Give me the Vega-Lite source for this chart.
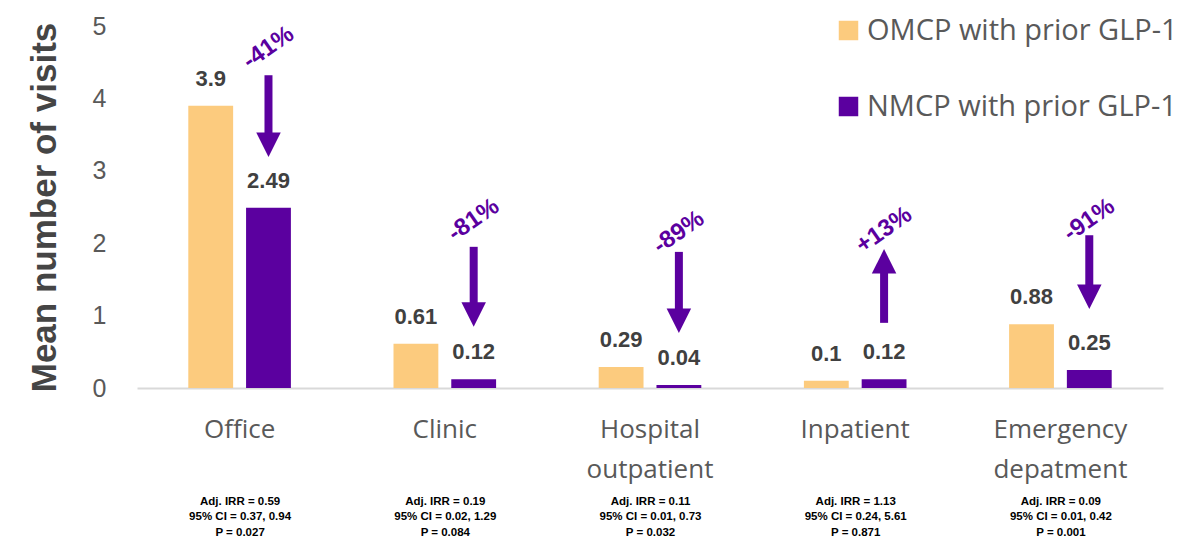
{
  "$schema": "https://vega.github.io/schema/vega-lite/v6.json",
  "width": 1026,
  "height": 362,
  "autosize": {"type": "none"},
  "padding": {"left": 137, "top": 26, "right": 27, "bottom": 152},
  "background": "white",
  "datasets": {
    "bars": [
      {"cat": "Office", "series": "OMCP with prior GLP-1", "value": 3.9},
      {"cat": "Office", "series": "NMCP with prior GLP-1", "value": 2.49},
      {"cat": "Clinic", "series": "OMCP with prior GLP-1", "value": 0.61},
      {"cat": "Clinic", "series": "NMCP with prior GLP-1", "value": 0.12},
      {"cat": "Hospital outpatient", "series": "OMCP with prior GLP-1", "value": 0.29},
      {"cat": "Hospital outpatient", "series": "NMCP with prior GLP-1", "value": 0.04},
      {"cat": "Inpatient", "series": "OMCP with prior GLP-1", "value": 0.1},
      {"cat": "Inpatient", "series": "NMCP with prior GLP-1", "value": 0.12},
      {"cat": "Emergency depatment", "series": "OMCP with prior GLP-1", "value": 0.88},
      {"cat": "Emergency depatment", "series": "NMCP with prior GLP-1", "value": 0.25}
    ],
    "arrows": [
      {"cat": "Office", "series": "NMCP with prior GLP-1", "pct": "-41%", "textY": 4.7, "y1": 4.32, "y2": 3.45, "headY": 3.36, "dir": "down"},
      {"cat": "Clinic", "series": "NMCP with prior GLP-1", "pct": "-81%", "textY": 2.32, "y1": 1.95, "y2": 1.1, "headY": 1.015, "dir": "down"},
      {"cat": "Hospital outpatient", "series": "NMCP with prior GLP-1", "pct": "-89%", "textY": 2.15, "y1": 1.88, "y2": 1.02, "headY": 0.93, "dir": "down"},
      {"cat": "Inpatient", "series": "NMCP with prior GLP-1", "pct": "+13%", "textY": 2.18, "y1": 1.65, "y2": 0.9, "headY": 1.75, "dir": "up"},
      {"cat": "Emergency depatment", "series": "NMCP with prior GLP-1", "pct": "-91%", "textY": 2.32, "y1": 2.11, "y2": 1.35, "headY": 1.26, "dir": "down"}
    ],
    "stats": [
      {"stats": "Adj. IRR = 0.59|95% CI = 0.37, 0.94|P = 0.027"},
      {"stats": "Adj. IRR = 0.19|95% CI = 0.02, 1.29|P = 0.084"},
      {"stats": "Adj. IRR = 0.11|95% CI = 0.01, 0.73|P = 0.032"},
      {"stats": "Adj. IRR = 1.13|95% CI = 0.24, 5.61|P = 0.871"},
      {"stats": "Adj. IRR = 0.09|95% CI = 0.01, 0.42|P = 0.001"}
    ]
  },
  "config": {
    "view": {"stroke": null},
    "scale": {"offsetBandPaddingInner": 0.224, "offsetBandPaddingOuter": 0},
    "axis": {"grid": false, "ticks": false}
  },
  "resolve": {"scale": {"x": "independent"}, "axis": {"x": "independent"}},
  "layer": [
    {
      "encoding": {
        "x": {
          "field": "cat", "type": "nominal", "sort": null,
          "scale": {"paddingInner": 0.5, "paddingOuter": 0.25},
          "axis": {
            "title": null, "orient": "bottom", "labelAngle": 0,
            "labelFont": "Open Sans", "labelFontSize": 26, "labelColor": "#595959",
            "labelPadding": 28, "labelLineHeight": 40, "labelExpr": "split(datum.label, ' ')",
            "domainColor": "#D9D9D9", "domainWidth": 2, "labelOverlap": false, "labelLimit": 300
          }
        },
        "xOffset": {"field": "series", "type": "nominal", "scale": {"domain": ["OMCP with prior GLP-1", "NMCP with prior GLP-1"]}},
        "y": {
          "type": "quantitative",
          "scale": {"domain": [0, 5], "nice": false},
          "axis": {
            "title": "Mean number of visits", "values": [0, 1, 2, 3, 4, 5], "domain": false,
            "labelFont": "Liberation Sans", "labelFontSize": 25, "labelColor": "#595959", "labelPadding": 31,
            "titleFont": "Liberation Sans", "titleFontSize": 35, "titleFontWeight": "bold", "titleColor": "#454545", "titlePadding": 30
          }
        }
      },
      "layer": [
        {
          "data": {"name": "bars"},
          "mark": {"type": "bar"},
          "encoding": {
            "y": {"field": "value", "type": "quantitative", "title": "Mean number of visits"},
            "color": {
              "field": "series", "type": "nominal",
              "scale": {"domain": ["OMCP with prior GLP-1", "NMCP with prior GLP-1"], "range": ["#FCCB7E", "#5B009F"]},
              "legend": {
                "title": null, "orient": "none", "legendX": 697, "legendY": -10, "direction": "vertical",
                "symbolType": "square", "symbolSize": 380, "symbolStrokeWidth": 0, "symbolOpacity": 1,
                "labelFont": "Open Sans", "labelFontSize": 29, "labelColor": "#595959", "labelOffset": 4,
                "labelLimit": 400, "rowPadding": 46, "padding": 0
              }
            }
          }
        },
        {
          "data": {"name": "bars"},
          "mark": {"type": "text", "font": "Liberation Sans", "fontSize": 22, "fontWeight": "bold", "color": "#404040", "baseline": "alphabetic", "dy": -20},
          "encoding": {
            "y": {"field": "value", "type": "quantitative", "title": "Mean number of visits"},
            "text": {"field": "value", "type": "nominal"}
          }
        },
        {
          "data": {"name": "arrows"},
          "mark": {"type": "rule", "strokeWidth": 8, "color": "#5B009F"},
          "encoding": {
            "y": {"field": "y1", "type": "quantitative", "title": "Mean number of visits"},
            "y2": {"field": "y2"}
          }
        },
        {
          "data": {"name": "arrows"},
          "mark": {"type": "point", "filled": true, "opacity": 1, "size": 600, "color": "#5B009F", "strokeWidth": 0},
          "encoding": {
            "y": {"field": "headY", "type": "quantitative", "title": "Mean number of visits"},
            "shape": {"field": "dir", "type": "nominal", "scale": {"domain": ["down", "up"], "range": ["M-1,-1L1,-1L0,1Z", "M-1,1L1,1L0,-1Z"]}, "legend": null}
          }
        },
        {
          "data": {"name": "arrows"},
          "mark": {"type": "text", "font": "Liberation Sans", "fontSize": 24, "fontWeight": "bold", "color": "#5B009F", "angle": 325, "align": "center", "baseline": "middle"},
          "encoding": {
            "y": {"field": "textY", "type": "quantitative", "title": "Mean number of visits"},
            "text": {"field": "pct", "type": "nominal"}
          }
        }
      ]
    },
    {
      "data": {"name": "stats"},
      "mark": {"type": "point", "opacity": 0},
      "encoding": {
        "x": {
          "field": "stats", "type": "nominal", "sort": null,
          "scale": {"paddingInner": 0.5, "paddingOuter": 0.25},
          "axis": {
            "title": null, "orient": "bottom", "labelAngle": 0, "domain": false,
            "labelFont": "Liberation Sans", "labelFontSize": 11.5, "labelFontWeight": "bold", "labelColor": "#000000",
            "labelPadding": 107, "labelLineHeight": 15.5, "labelExpr": "split(datum.label, '|')",
            "labelOverlap": false, "labelLimit": 300
          }
        }
      }
    }
  ]
}
